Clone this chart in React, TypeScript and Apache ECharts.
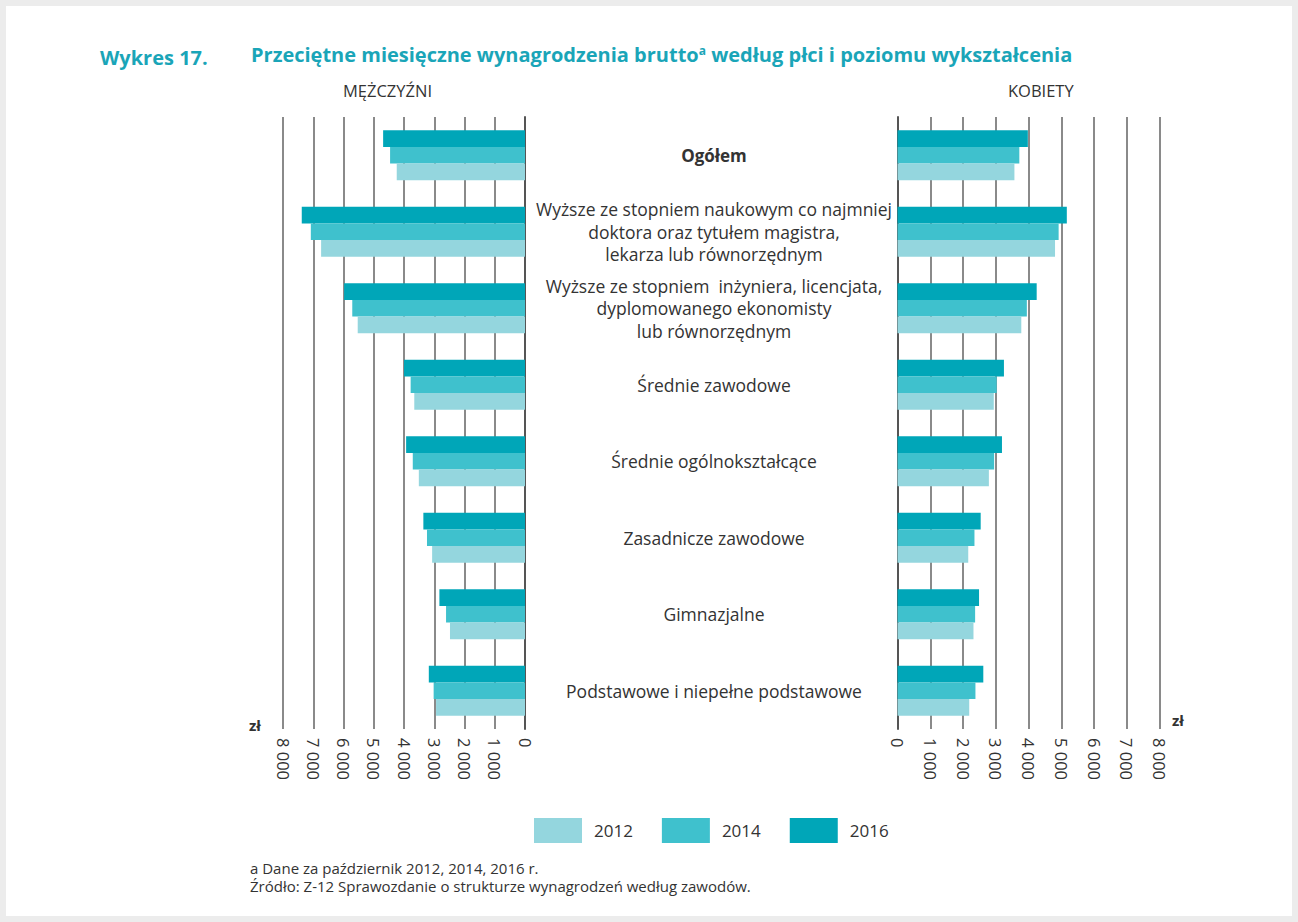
import React, { useEffect, useRef } from "react";
import * as echarts from "echarts";

const categories = [
  "Ogółem",
  "Wyższe ze stopniem naukowym co najmniej\ndoktora oraz tytułem magistra,\nlekarza lub równorzędnym",
  "Wyższe ze stopniem  inżyniera, licencjata,\ndyplomowanego ekonomisty\nlub równorzędnym",
  "Średnie zawodowe",
  "Średnie ogólnokształcące",
  "Zasadnicze zawodowe",
  "Gimnazjalne",
  "Podstawowe i niepełne podstawowe",
];

const years = ["2012", "2014", "2016"];

const men2012 = [4240, 6740, 5530, 3660, 3510, 3070, 2480, 2940];
const men2014 = [4460, 7080, 5710, 3780, 3710, 3240, 2610, 3020];
const men2016 = [4690, 7380, 5980, 4000, 3930, 3360, 2830, 3180];

const women2012 = [3570, 4810, 3780, 2940, 2790, 2160, 2320, 2190];
const women2014 = [3720, 4920, 3950, 3030, 2950, 2350, 2370, 2380];
const women2016 = [3980, 5170, 4250, 3250, 3190, 2540, 2490, 2620];

const colors: Record<string, string> = {
  "2012": "#94d6de",
  "2014": "#3fc1cd",
  "2016": "#00a6b8",
};

const FONT = "'Open Sans', sans-serif";
const TEAL = "#1aa5b8";
const TEXT = "#333333";

const tickFmt = (v: number) => (v === 0 ? "0" : `${v / 1000} 000`);

export default function App() {
  const ref = useRef<HTMLDivElement>(null);
  useEffect(() => {
    if (!ref.current) return;
    const chart = echarts.init(ref.current, undefined, { renderer: "svg" });

    const barWidth = 16.7;
    const valueAxisCommon = {
      type: "value" as const,
      min: 0,
      max: 8000,
      interval: 1000,
      axisLine: { show: false },
      axisTick: { show: false },
      splitLine: { show: true, lineStyle: { color: "#8a8a8a", width: 2 } },
      axisLabel: {
        rotate: -90,
        margin: 9,
        fontFamily: FONT,
        fontSize: 16.5,
        color: TEXT,
        formatter: tickFmt,
      },
    };

    const mkSeries = (name: string, data: number[], idx: number) => ({
      type: "bar" as const,
      name,
      data,
      xAxisIndex: idx,
      yAxisIndex: idx,
      barWidth,
      barGap: "0%",
      itemStyle: { color: colors[name] },
      emphasis: { disabled: true },
    });

    chart.setOption({
      animation: false,
      backgroundColor: "#ececec",
      grid: [
        { left: 283, width: 242, top: 117, height: 612 },
        { left: 897.5, width: 262, top: 117, height: 612 },
      ],
      xAxis: [
        { ...valueAxisCommon, gridIndex: 0, inverse: true },
        { ...valueAxisCommon, gridIndex: 1 },
      ],
      yAxis: [
        {
          type: "category",
          gridIndex: 0,
          data: categories,
          inverse: true,
          position: "right",
          axisLine: { show: true, lineStyle: { color: "#555555", width: 2 } },
          axisTick: { show: false },
          axisLabel: {
            margin: 189,
            align: "center",
            fontFamily: FONT,
            fontSize: 17.5,
            lineHeight: 22.5,
            color: TEXT,
            formatter: (v: string) => (v === "Ogółem" ? `{b|${v}}` : v),
            rich: {
              b: {
                fontFamily: FONT,
                fontSize: 17,
                fontWeight: "bold",
                color: TEXT,
              },
            },
          },
        },
        {
          type: "category",
          gridIndex: 1,
          data: categories,
          inverse: true,
          position: "left",
          axisLine: { show: true, lineStyle: { color: "#555555", width: 2 } },
          axisTick: { show: false },
          axisLabel: { show: false },
        },
      ],
      legend: {
        data: years,
        left: 529,
        top: 813,
        itemWidth: 48,
        itemHeight: 25,
        itemGap: 29,
        icon: "rect",
        selectedMode: false,
        textStyle: {
          fontFamily: FONT,
          fontSize: 17,
          color: TEXT,
          padding: [0, 0, 0, 7],
        },
      },
      series: [
        mkSeries("2016", men2016, 0),
        mkSeries("2014", men2014, 0),
        mkSeries("2012", men2012, 0),
        mkSeries("2016", women2016, 1),
        mkSeries("2014", women2014, 1),
        mkSeries("2012", women2012, 1),
      ],
      graphic: [
        {
          type: "rect",
          z: -100,
          silent: true,
          shape: { x: 6, y: 6, width: 1286, height: 910 },
          style: { fill: "#ffffff" },
        },
        {
          type: "text",
          left: 100,
          top: 47,
          style: {
            text: "Wykres 17.",
            fontFamily: FONT,
            fontSize: 20,
            fontWeight: "bold",
            fill: TEAL,
          },
        },
        {
          type: "text",
          left: 251,
          top: 44,
          style: {
            text: "Przeciętne miesięczne wynagrodzenia brutto{sup|a} według płci i poziomu wykształcenia",
            fontFamily: FONT,
            fontSize: 20,
            fontWeight: "bold",
            fill: TEAL,
            rich: {
              sup: {
                fontFamily: FONT,
                fontSize: 12,
                fontWeight: "bold",
                fill: TEAL,
                verticalAlign: "top",
                padding: [0, 0, 9, 0],
              },
            },
          },
        },
        {
          type: "text",
          left: 343,
          top: 82,
          style: { text: "MĘŻCZYŹNI", fontFamily: FONT, fontSize: 16.5, fill: TEXT },
        },
        {
          type: "text",
          left: 1008,
          top: 82,
          style: { text: "KOBIETY", fontFamily: FONT, fontSize: 16.5, fill: TEXT },
        },
        {
          type: "text",
          left: 249,
          top: 717,
          style: { text: "zł", fontFamily: FONT, fontSize: 15, fontWeight: "bold", fill: TEXT },
        },
        {
          type: "text",
          left: 1172,
          top: 712,
          style: { text: "zł", fontFamily: FONT, fontSize: 15, fontWeight: "bold", fill: TEXT },
        },
        {
          type: "text",
          left: 250,
          top: 859,
          style: {
            text: "a Dane za październik 2012, 2014, 2016 r.\nŹródło: Z-12 Sprawozdanie o strukturze wynagrodzeń według zawodów.",
            fontFamily: FONT,
            fontSize: 15,
            lineHeight: 18,
            fill: TEXT,
          },
        },
      ],
    });
    return () => chart.dispose();
  }, []);

  return (
    <div
      ref={ref}
      style={{ position: "fixed", left: 0, top: 0, width: 1298, height: 922 }}
    />
  );
}
